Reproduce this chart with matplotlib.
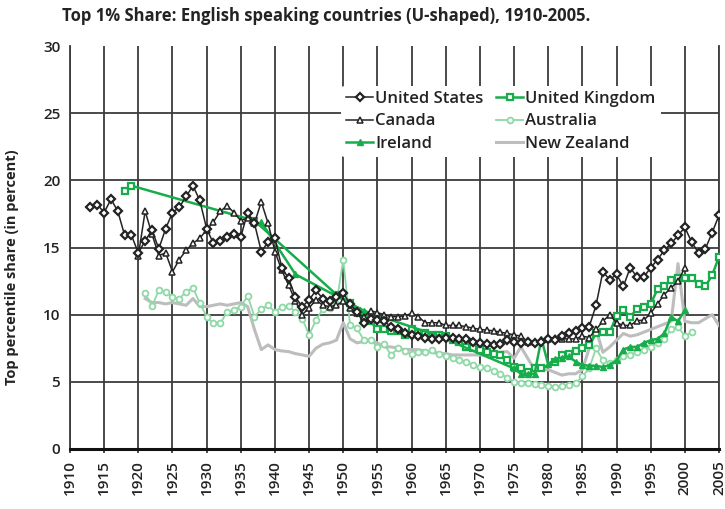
import numpy as np
import matplotlib
matplotlib.use('Agg')
import matplotlib.pyplot as plt

plt.rcParams['font.family'] = ['Open Sans', 'DejaVu Sans']

# ─────────────────────────────────────────────────────────────────────────────
# DATA  (top 1% income share, percent)
# ─────────────────────────────────────────────────────────────────────────────

us_years = list(range(1913, 2006))
us_share = [
    18.0, 18.2, 17.6, 18.6, 17.7, 15.9, 15.9,
    14.6, 15.5, 16.3, 14.9, 16.4, 17.6, 18.0, 18.8, 19.6, 18.5,
    16.4, 15.3, 15.5, 15.8, 16.0, 15.8, 17.6, 16.8, 14.7, 15.4,
    15.7, 13.5, 12.7, 11.3, 10.6, 11.1, 11.8, 11.2, 11.0, 11.3,
    11.6, 10.8, 10.2, 9.4, 9.7, 9.6, 9.5, 9.1, 8.9, 8.6,
    8.5, 8.4, 8.3, 8.2, 8.2, 8.3, 8.3, 8.2, 8.2, 8.0,
    7.9, 7.8, 7.75, 7.8, 8.1, 8.0, 7.9, 8.0, 7.9, 8.0,
    8.2, 8.1, 8.4, 8.6, 8.8, 9.0, 9.1, 10.7, 13.2, 12.6,
    13.0, 12.1, 13.5, 12.8, 12.8, 13.5, 14.1, 14.8, 15.3, 15.9,
    16.5, 15.4, 14.6, 14.9, 16.1, 17.4,
]

ca_years = list(range(1920, 2001))
ca_share = [
    14.4, 17.7, 16.0, 14.4, 14.6, 13.2, 14.1, 14.8, 15.3, 15.7,
    16.3, 16.9, 17.7, 18.1, 17.6, 17.0, 17.2, 16.8, 18.4, 16.8,
    14.7, 13.3, 12.2, 11.0, 10.0, 10.5, 11.1, 10.7, 10.6, 10.7,
    11.0, 10.5, 10.1, 9.85, 10.3, 10.15, 10.0, 9.85, 9.85, 9.9,
    10.1, 9.85, 9.4, 9.4, 9.4, 9.2, 9.2, 9.2, 9.1, 9.0,
    8.9, 8.85, 8.8, 8.7, 8.6, 8.5, 8.4, 8.0, 8.0, 8.1,
    8.2, 8.3, 8.2, 8.2, 8.2, 8.4, 8.3, 8.9, 9.5, 10.0,
    9.4, 9.2, 9.2, 9.55, 9.6, 10.1, 10.8, 11.5, 12.0, 12.5,
    13.5,
]

ie_years = [1938, 1943, 1953, 1964] + list(range(1975, 2001))
ie_share = [
    16.9, 13.0, 10.3, 8.4,
    6.0, 5.6, 5.6, 5.6, 8.2, 6.3, 6.7, 6.8, 6.9, 6.5,
    6.25, 6.2, 6.2, 6.1, 6.25, 6.6, 7.4, 7.6, 7.6, 7.9,
    8.1, 8.2, 8.6, 9.85, 9.5, 10.35,
]

uk_years = [1918, 1919, 1937, 1949] + list(range(1951, 1980)) + list(range(1981, 2006))
uk_share = [
    19.2, 19.6, 17.0, 11.5,
    10.9, 10.3, 9.7, 9.5, 8.9, 8.9, 8.8, 8.8, 8.5, 8.9,
    8.6, 8.6, 8.5, 8.5, 8.4, 8.1, 8.0, 7.6, 7.5, 7.4,
    7.2, 7.1, 7.0, 6.6, 6.1, 6.0, 5.75, 6.0, 6.0,
    6.5, 7.0, 7.1, 7.3, 7.5, 7.75, 8.6, 8.7, 8.7, 9.9,
    10.35, 9.85, 10.4, 10.6, 10.8, 11.9, 12.1, 12.6, 12.7, 12.7,
    12.7, 12.3, 12.1, 12.95, 14.3,
]

au_years = list(range(1921, 2002))
au_share = [
    11.6, 10.65, 11.8, 11.7, 11.3, 11.2, 11.7, 12.0, 10.85, 9.85,
    9.35, 9.35, 10.2, 10.35, 10.6, 11.4, 9.85, 10.4, 10.7, 10.2,
    10.6, 10.65, 10.2, 9.7, 8.5, 9.6, 10.4, 10.5, 10.8, 14.1,
    9.2, 9.0, 8.1, 8.1, 7.6, 7.8, 7.0, 7.5, 7.3, 7.1,
    7.25, 7.2, 7.4, 7.1, 6.9, 6.8, 6.6, 6.5, 6.25, 6.1,
    6.0, 5.8, 5.6, 5.3, 5.0, 4.9, 4.9, 4.85, 4.8, 4.7,
    4.65, 4.7, 4.8, 4.9, 5.4, 6.0, 7.5, 6.6, 6.4, 6.6,
    6.9, 7.0, 7.25, 7.4, 7.6, 7.9, 8.2, 8.9, 9.1, 8.4,
    8.7,
]

nz_years = list(range(1921, 2006))
nz_share = [
    11.2, 10.9, 10.9, 10.8, 10.9, 10.8, 10.7, 11.2, 10.6, 10.6,
    10.7, 10.8, 10.7, 10.8, 10.9, 10.6, 8.9, 7.4, 7.75, 7.4,
    7.3, 7.25, 7.1, 7.0, 6.9, 7.5, 7.8, 7.9, 8.1, 9.4,
    8.2, 7.9, 8.0, 8.1, 7.9, 7.6, 7.6, 7.5, 7.4, 7.4,
    7.4, 7.3, 7.2, 7.1, 7.1, 7.0, 7.0, 7.0, 7.0, 7.0,
    7.0, 7.1, 7.2, 7.25, 6.75, 7.6, 6.75, 5.9, 5.9, 5.9,
    5.7, 5.5, 5.6, 5.6, 5.9, 7.5, 8.9, 7.2, 7.6, 8.1,
    8.6, 8.4, 8.5, 8.7, 8.9, 9.1, 9.3, 9.5, 13.8, 9.5,
    9.4, 9.4, 9.7, 10.0, 9.2,
]

x_ticks = list(range(1910, 2006, 5))
y_ticks = list(range(0, 31, 5))

TITLE = "Top 1% Share: English speaking countries (U-shaped), 1910-2005."
YLABEL = "Top percentile share (in percent)"

DARK = '#232323'
GRID = '#3c3c3c'
GREEN = '#16ad4a'
LIGHT_GREEN = '#8ed9a6'
GREY = '#bdbdbd'

# ─────────────────────────────────────────────────────────────────────────────
# PLOT
# ─────────────────────────────────────────────────────────────────────────────

fig = plt.figure(figsize=(7.25, 5.09), dpi=100)
ax = fig.add_axes([70 / 725, 1 - 449 / 509, 649 / 725, 403 / 509])

nz, = ax.plot(nz_years, nz_share, color=GREY, lw=2.2, zorder=3, label='New Zealand')
au, = ax.plot(au_years, au_share, color=LIGHT_GREEN, lw=1.3, marker='o', ms=4.2,
              mfc='white', mec=LIGHT_GREEN, mew=1.3, zorder=4, label='Australia')
uk, = ax.plot(uk_years, uk_share, color=GREEN, lw=1.8, marker='s', ms=4.2,
              mfc='white', mec=GREEN, mew=1.6, zorder=5, label='United Kingdom')
ie, = ax.plot(ie_years, ie_share, color=GREEN, lw=1.8, marker='^', ms=5,
              mfc=GREEN, mec=GREEN, zorder=5, label='Ireland')
ca, = ax.plot(ca_years, ca_share, color=DARK, lw=1.1, marker='^', ms=4.6,
              mfc='white', mec=DARK, mew=1.1, zorder=6, label='Canada')
us, = ax.plot(us_years, us_share, color=DARK, lw=1.1, marker='D', ms=3.8,
              mfc='white', mec=DARK, mew=1.6, zorder=7, label='United States')

ax.set_xlim(1910, 2005)
ax.set_ylim(0, 30)
ax.set_xticks(x_ticks)
ax.set_yticks(y_ticks)
ax.grid(True, color=GRID, lw=1.3, zorder=1)
ax.set_axisbelow(True)
# no line along the top (30) edge, as in the original
ax.get_ygridlines()[-1].set_visible(False)
ax.spines['top'].set_visible(False)
for side in ['left', 'right']:
    ax.spines[side].set_color(GRID)
    ax.spines[side].set_linewidth(1.3)
ax.spines['bottom'].set_color('#111111')
ax.spines['bottom'].set_linewidth(2.2)

ax.tick_params(axis='x', length=3, width=1.3, color=GRID, pad=5, labelsize=11,
               labelrotation=90, labelcolor=DARK)
ax.tick_params(axis='y', length=0, pad=7, labelsize=11, labelcolor=DARK)
for lbl in ax.get_xticklabels() + ax.get_yticklabels():
    lbl.set_fontweight('semibold')

ax.set_ylabel(YLABEL, fontsize=10.5, fontweight='bold', color=DARK)
ax.yaxis.set_label_coords(-0.078, 0.452)

leg = ax.legend(handles=[us, ca, ie, uk, au, nz], ncol=2, loc='upper left',
                bbox_to_anchor=(0.405, 0.922), frameon=True, facecolor='white',
                edgecolor='none', framealpha=1, fontsize=12, handlelength=1.6,
                handletextpad=0.15, columnspacing=0.75, labelspacing=0.4,
                borderpad=0.3)
leg.set_zorder(10)
for t in leg.get_texts():
    t.set_fontweight('semibold')
    t.set_color(DARK)

fig.text(62 / 725, 1 - 16 / 509, TITLE, fontsize=12, fontweight='bold',
         color=DARK, va='center', ha='left')

fig.savefig('out.png', dpi=100, facecolor='white')
plt.close(fig)
